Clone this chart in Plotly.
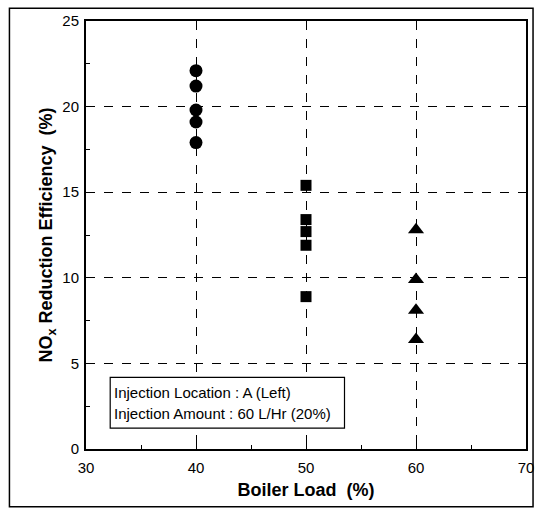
import plotly.graph_objects as go

load_40 = [40, 40, 40, 40, 40]
eff_40 = [22.1, 21.2, 19.8, 19.1, 17.9]
load_50 = [50, 50, 50, 50, 50]
eff_50 = [15.4, 13.4, 12.7, 11.9, 8.9]
load_60 = [60, 60, 60, 60]
eff_60 = [12.8, 9.9, 8.1, 6.4]

fig = go.Figure()
fig.add_trace(go.Scatter(x=load_40, y=eff_40, mode="markers",
                         marker=dict(symbol="circle", size=13, color="black"), showlegend=False))
fig.add_trace(go.Scatter(x=load_50, y=eff_50, mode="markers",
                         marker=dict(symbol="square", size=11, color="black"), showlegend=False))
fig.add_trace(go.Scatter(x=load_60, y=eff_60, mode="markers",
                         marker=dict(symbol="triangle-up", size=14, color="black"), showlegend=False))

FONT = "Arial, Liberation Sans"
axis_common = dict(
    showline=True, linecolor="black", linewidth=2, mirror=True,
    showgrid=True, gridcolor="black", gridwidth=1, griddash="dash",
    ticks="inside", ticklen=5, tickcolor="black",
    tickfont=dict(family=FONT, size=15, color="black"),
    zeroline=False,
)

fig.update_xaxes(range=[30, 70], dtick=10, tick0=30, ticklabelstandoff=4,
                 minor=dict(ticks="inside", dtick=5, ticklen=4, tickcolor="black", showgrid=False),
                 title=dict(text="<b>Boiler Load  (%)</b>", standoff=8,
                            font=dict(family=FONT, size=18, color="black")),
                 **axis_common)
fig.update_yaxes(range=[0, 25], dtick=5, tick0=0, ticklabelstandoff=2,
                 minor=dict(ticks="inside", dtick=2.5, ticklen=4, tickcolor="black", showgrid=False),
                 title=dict(text="<b>NO<sub>x</sub> Reduction Efficiency  (%)</b>", standoff=5,
                            font=dict(family=FONT, size=18, color="black")),
                 **axis_common)

# info box
fig.add_shape(type="rect", xref="x", yref="y", x0=32.2, x1=53.5, y0=1.22, y1=4.18,
              line=dict(color="black", width=1.2), fillcolor="white", layer="above")
fig.add_annotation(xref="x", yref="y", x=32.4, y=3.3, xanchor="left", yanchor="middle",
                   text="Injection Location : A (Left)", showarrow=False,
                   font=dict(family=FONT, size=15, color="black"))
fig.add_annotation(xref="x", yref="y", x=32.4, y=2.05, xanchor="left", yanchor="middle",
                   text="Injection Amount : 60 L/Hr (20%)", showarrow=False,
                   font=dict(family=FONT, size=15, color="black"))

# outer frame
fig.add_shape(type="rect", xref="paper", yref="paper", x0=-0.174, x1=1.016, y0=-0.135, y1=1.030,
              line=dict(color="black", width=1.5))

fig.update_layout(
    width=546, height=514,
    margin=dict(l=86, r=13, t=18, b=65),
    plot_bgcolor="white", paper_bgcolor="white",
)

fig.write_html("out.html", config={"displayModeBar": False},
               post_script="document.body.style.margin='0';")
